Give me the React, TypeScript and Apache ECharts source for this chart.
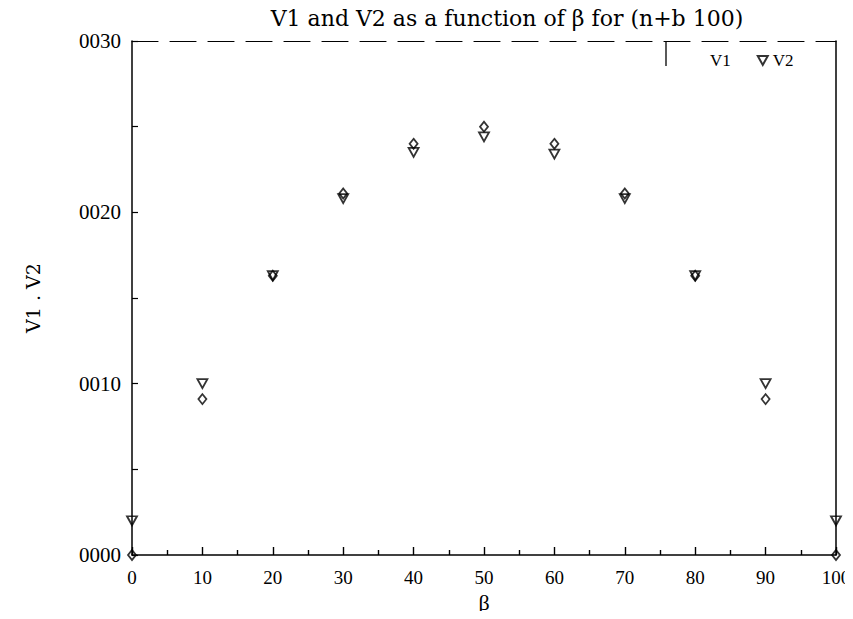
import React, { useEffect, useRef } from "react";
import * as echarts from "echarts";

const betaValues = [0, 10, 20, 30, 40, 50, 60, 70, 80, 90, 100];
const v1Values = [0.0, 0.00091, 0.00163, 0.00211, 0.0024, 0.0025, 0.0024, 0.00211, 0.00163, 0.00091, 0.0];
const v2Values = [0.0002, 0.001, 0.00163, 0.00208, 0.00235, 0.00244, 0.00234, 0.00208, 0.00163, 0.001, 0.0002];
const titleText = "V1 and V2 as a function of β for (n+b 100)";
const seriesNames = ["V1", "V2"];
const xName = "β";
const yName = "V1 . V2";

const SERIF = "Liberation Serif";
const WIDE = "DejaVu Serif";
const INK = "#000";
const DOWN_TRI = "path://M0,0 L10,0 L5,9 Z";

export default function App() {
  const ref = useRef<HTMLDivElement>(null);
  useEffect(() => {
    if (!ref.current) return;
    const chart = echarts.init(ref.current, null, { renderer: "svg" });
    const pts = (vals: number[]) => betaValues.map((b, i) => [b, vals[i]]);
    const hollow = { color: "rgba(255,255,255,0)", borderColor: INK, borderWidth: 1.8 };
    chart.setOption({
      animation: false,
      backgroundColor: "#fff",
      textStyle: { fontFamily: SERIF, color: INK },
      title: {
        text: titleText,
        left: 502,
        textAlign: "center",
        top: 2,
        textStyle: { fontFamily: WIDE, fontSize: 22, fontWeight: "normal", color: INK },
      },
      legend: {
        left: 690,
        top: 47,
        itemGap: 26,
        itemWidth: 10,
        itemHeight: 10,
        textStyle: { fontFamily: SERIF, fontSize: 17, color: INK },
        data: [
          { name: seriesNames[0], icon: "none" },
          { name: seriesNames[1], icon: DOWN_TRI },
        ],
      },
      grid: { left: 132, right: 17, top: 41, bottom: 64, containLabel: false, outerBoundsMode: "none" },
      xAxis: [
        {
          type: "value",
          min: 0,
          max: 100,
          interval: 10,
          name: xName,
          nameLocation: "middle",
          nameGap: 34,
          nameTextStyle: { fontFamily: SERIF, fontSize: 22, color: INK },
          axisLine: { show: true, onZero: false, lineStyle: { color: INK, width: 1.5 } },
          axisTick: { show: true, inside: true, length: 8, lineStyle: { color: INK, width: 1.4 } },
          minorTick: { show: true, splitNumber: 2, length: 5, lineStyle: { color: INK, width: 1.4 } },
          axisLabel: { fontFamily: SERIF, fontSize: 19, color: INK, margin: 13 },
          splitLine: { show: false },
        },
        {
          type: "value",
          position: "top",
          min: 0,
          max: 100,
          axisLine: { show: true, onZero: false, lineStyle: { color: INK, width: 1.2, type: [26, 12] } },
          axisTick: { show: false },
          axisLabel: { show: false },
          splitLine: { show: false },
        },
      ],
      yAxis: [
        {
          type: "value",
          min: 0,
          max: 0.003,
          interval: 0.001,
          name: yName,
          nameLocation: "middle",
          nameGap: 90,
          nameRotate: 90,
          nameTextStyle: { fontFamily: WIDE, fontSize: 19, color: INK },
          axisLine: { show: true, onZero: false, lineStyle: { color: INK, width: 1.5 } },
          axisTick: { show: true, inside: true, length: 6, lineStyle: { color: INK, width: 1.2 } },
          minorTick: { show: true, splitNumber: 2, length: 6, lineStyle: { color: INK, width: 1.2 } },
          axisLabel: {
            fontFamily: SERIF,
            fontSize: 21,
            color: INK,
            margin: 11,
            formatter: (v: number) => String(Math.round(v * 10000)).padStart(4, "0"),
          },
          splitLine: { show: false },
        },
        {
          type: "value",
          position: "right",
          min: 0,
          max: 0.003,
          axisLine: { show: true, onZero: false, lineStyle: { color: INK, width: 1.5 } },
          axisTick: { show: false },
          axisLabel: { show: false },
          splitLine: { show: false },
        },
      ],
      series: [
        {
          name: seriesNames[0],
          type: "scatter",
          symbol: "diamond",
          symbolSize: [8, 10],
          itemStyle: hollow,
          data: pts(v1Values),
          z: 3,
        },
        {
          name: seriesNames[1],
          type: "scatter",
          symbol: DOWN_TRI,
          symbolSize: [10, 9],
          itemStyle: hollow,
          data: pts(v2Values),
          z: 4,
        },
      ],
      graphic: [
        {
          type: "line",
          shape: { x1: 666, y1: 42, x2: 666, y2: 66 },
          style: { stroke: INK, lineWidth: 1.3 },
        },
      ],
    });
    return () => chart.dispose();
  }, []);
  return <div ref={ref} style={{ width: 853, height: 619, margin: -8 }} />;
}
